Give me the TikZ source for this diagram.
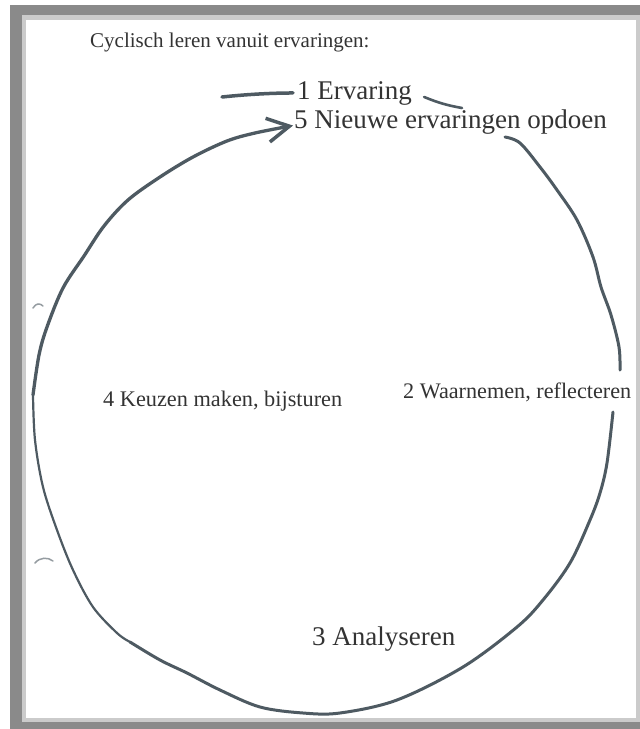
\documentclass[tikz,border=0pt]{standalone}
\usepackage{fontspec}
\setmainfont{Liberation Serif}
\usetikzlibrary{arrows.meta}
\definecolor{framedark}{HTML}{8A8A8A}
\definecolor{framelight}{HTML}{CBCBCB}
\definecolor{pen}{HTML}{4E5A62}
\definecolor{ink}{HTML}{333333}
\tikzset{
  cycletext/.style={anchor=base west, text=ink, inner sep=0pt},
  penline/.style={pen, line width=3pt, line cap=round, line join=round},
  punchmark/.style={pen!60, line width=1.5pt, line cap=round},
}
\begin{document}
\begin{tikzpicture}[x=1pt,y=-1pt]
\useasboundingbox (0,0) rectangle (640,729);
\fill[white] (0,0) rectangle (640,729);
\fill[framedark] (10,5) rectangle (640,729);
\fill[framelight] (22,15) rectangle (640,722);
\fill[white] (26,20) rectangle (636,718);

\node[cycletext, font=\fontsize{21}{24}\selectfont] (title) at (90,47) {Cyclisch leren vanuit ervaringen:};
\node[cycletext, font=\fontsize{27}{30}\selectfont] (ervaring) at (297,99) {1 Ervaring};
\node[cycletext, font=\fontsize{27}{30}\selectfont] (nieuw) at (294,128) {5 Nieuwe ervaringen opdoen};
\node[cycletext, font=\fontsize{22.3}{26}\selectfont] (keuzen) at (103,406) {4 Keuzen maken, bijsturen};
\node[cycletext, font=\fontsize{22.2}{26}\selectfont] (waarnemen) at (403,398) {2 Waarnemen, reflecteren};
\node[cycletext, font=\fontsize{27}{30}\selectfont] (analyseren) at (312,645) {3 Analyseren};

\coordinate (instart) at (222,97);
\coordinate (outend) at (462,108);
\coordinate (rtop) at (505,137);
\coordinate (rmid) at (620,370);
\coordinate (rlow) at (613,412);
\coordinate (lbend) at (130,642);
\coordinate (lmid) at (33,395);

\draw[penline, line width=3.5pt] (instart) .. controls (250,94) and (275,93) .. ([xshift=-4pt]ervaring.west);
\draw[penline, line width=2.6pt] ([xshift=12pt,yshift=-4pt]ervaring.east) to[bend right=6] (outend);
\draw[penline] plot[smooth, tension=0.55] coordinates {(rtop) (520,143) (540,167) (557,190) (577,220)
  (593,257) (601,287) (611,315) (619,347) (rmid)};
\draw[penline] plot[smooth, tension=0.55] coordinates {(rlow) (607,463) (600,493) (590,520) (570,563)
  (543,600) (517,627) (463,667) (397,700) (340,713) (303,713) (260,707) (220,690) (187,673)
  (160,660) (lbend)};
\draw[penline, line width=2.2pt] plot[smooth, tension=0.55] coordinates {(lbend) (117,633) (93,607)
  (73,570) (57,530) (43,487) (35,440) (lmid)};
\draw[penline, line width=3.3pt, -{Straight Barb[length=22pt,width=24pt,line width=3.5pt]}]
  plot[smooth, tension=0.55] coordinates {(lmid) (39,355) (47,327) (63,288) (84,256) (104,226)
  (128,200) (160,177) (193,157) (227,141) (255,133) ([xshift=-1pt,yshift=-4pt]nieuw.west)};

\draw[punchmark] (33,308) .. controls (36,303) and (40,303) .. (43,306);
\draw[punchmark] (35,563) .. controls (40,557) and (48,557) .. (53,561);
\end{tikzpicture}
\end{document}
